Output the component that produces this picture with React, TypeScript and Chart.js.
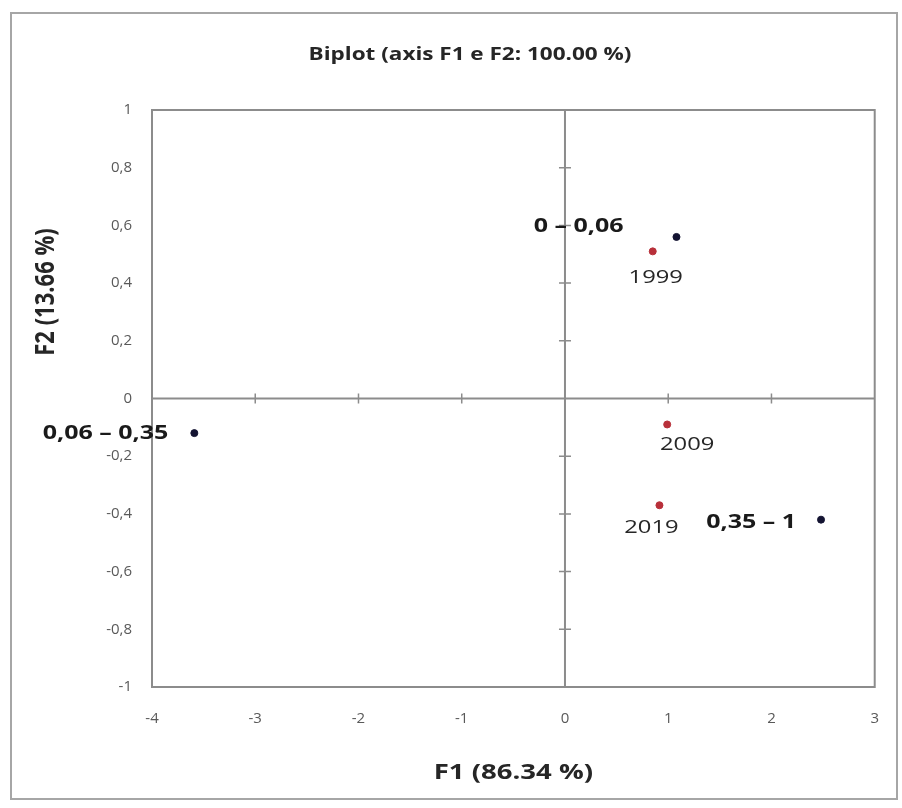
import React, { useEffect, useRef } from "react";
import { Chart, registerables } from "chart.js";

Chart.register(...registerables);

// ---- data ----
const chartTitle = "Biplot (axis F1 e F2: 100.00 %)";
const xAxisTitle = "F1 (86.34 %)";
const yAxisTitle = "F2 (13.66 %)";

const classLabels = ["0 – 0,06", "0,06 – 0,35", "0,35 – 1"];
const classX = [1.08, -3.59, 2.48];
const classY = [0.56, -0.12, -0.42];

const yearLabels = ["1999", "2009", "2019"];
const yearX = [0.85, 0.99, 0.915];
const yearY = [0.51, -0.09, -0.37];

const xMin = -4;
const xMax = 3;
const xStep = 1;
const yMin = -1;
const yMax = 1;
const yStep = 0.2;

// label placement (layout only): [dx, dy, align]
const classLabelPlacement: [number, number, CanvasTextAlign][] = [
  [-53, -11, "right"],
  [-26, 0, "right"],
  [-25, 3, "right"],
];
const yearLabelPlacement: [number, number, CanvasTextAlign][] = [
  [3, 26, "center"],
  [20, 20, "center"],
  [-8, 22, "center"],
];

const FONT = "'Open Sans', 'DejaVu Sans', sans-serif";
const SX = 1.25; // horizontal text stretch seen in the reference

const fmt = (v: number) => {
  const r = Math.round(v * 10) / 10;
  if (Math.abs(r) < 1e-9) return "0";
  if (Number.isInteger(r)) return String(r);
  return r.toFixed(1).replace(".", ",");
};

function drawText(ctx: CanvasRenderingContext2D, text: string, x: number, y: number, align: CanvasTextAlign) {
  ctx.save();
  ctx.translate(x, y);
  ctx.scale(SX, 1);
  ctx.textAlign = align;
  ctx.textBaseline = "middle";
  ctx.fillText(text, 0, 0);
  ctx.restore();
}

const decorPlugin = {
  id: "decor",
  beforeDraw(chart: any) {
    const { ctx, chartArea, scales } = chart;
    ctx.save();
    ctx.fillStyle = "#ffffff";
    ctx.fillRect(0, 0, chart.width, chart.height);
    // outer frame
    ctx.strokeStyle = "#a6a6a6";
    ctx.lineWidth = 2;
    ctx.strokeRect(11, 13, 886, 786);
    // plot area frame
    ctx.strokeStyle = "#8c8c8c";
    ctx.lineWidth = 2;
    ctx.strokeRect(chartArea.left, chartArea.top, chartArea.right - chartArea.left, chartArea.bottom - chartArea.top);
    // zero lines
    const x0 = scales.x.getPixelForValue(0);
    const y0 = scales.y.getPixelForValue(0);
    ctx.beginPath();
    ctx.moveTo(chartArea.left, y0);
    ctx.lineTo(chartArea.right, y0);
    ctx.moveTo(x0, chartArea.top);
    ctx.lineTo(x0, chartArea.bottom);
    ctx.stroke();
    // cross tick marks
    ctx.lineWidth = 1.5;
    ctx.beginPath();
    for (let v = xMin + xStep; v < xMax; v += xStep) {
      if (Math.abs(v) < 1e-9) continue;
      const px = scales.x.getPixelForValue(v);
      ctx.moveTo(px, y0 - 5);
      ctx.lineTo(px, y0 + 5);
    }
    for (let i = 1; i < Math.round((yMax - yMin) / yStep); i++) {
      const v = yMin + i * yStep;
      if (Math.abs(v) < 1e-9) continue;
      const py = scales.y.getPixelForValue(v);
      ctx.moveTo(x0 - 6, py);
      ctx.lineTo(x0 + 6, py);
    }
    ctx.stroke();
    ctx.restore();
  },
  afterDraw(chart: any) {
    const { ctx, chartArea } = chart;
    ctx.save();
    // titles
    ctx.fillStyle = "#262626";
    ctx.font = `bold 18px ${FONT}`;
    drawText(ctx, chartTitle, 470, 55, "center");
    ctx.font = `bold 22px ${FONT}`;
    drawText(ctx, xAxisTitle, (chartArea.left + chartArea.right) / 2, 773, "center");
    ctx.save();
    ctx.translate(46, 292);
    ctx.rotate(-Math.PI / 2);
    ctx.scale(1, SX);
    ctx.textAlign = "center";
    ctx.textBaseline = "middle";
    ctx.fillText(yAxisTitle, 0, 0);
    ctx.restore();

    // point labels
    const m0 = chart.getDatasetMeta(0);
    ctx.font = `bold 20px ${FONT}`;
    ctx.fillStyle = "#1a1a1a";
    m0.data.forEach((el: any, i: number) => {
      const [dx, dy, al] = classLabelPlacement[i];
      drawText(ctx, classLabels[i], el.x + dx, el.y + dy, al);
    });
    const m1 = chart.getDatasetMeta(1);
    ctx.font = `19px ${FONT}`;
    ctx.fillStyle = "#262626";
    m1.data.forEach((el: any, i: number) => {
      const [dx, dy, al] = yearLabelPlacement[i];
      drawText(ctx, yearLabels[i], el.x + dx, el.y + dy, al);
    });
    ctx.restore();
  },
};

export default function App() {
  const ref = useRef<HTMLCanvasElement | null>(null);
  useEffect(() => {
    if (!ref.current) return;
    const chart = new Chart(ref.current, {
      type: "scatter",
      data: {
        datasets: [
          {
            label: "classes",
            data: classX.map((x, i) => ({ x, y: classY[i] })),
            backgroundColor: "#141432",
            borderColor: "#141432",
            pointRadius: 3.5,
          },
          {
            label: "years",
            data: yearX.map((x, i) => ({ x, y: yearY[i] })),
            backgroundColor: "#b8303a",
            borderColor: "#b8303a",
            pointRadius: 3.5,
          },
        ],
      },
      options: {
        animation: false,
        responsive: false,
        maintainAspectRatio: false,
        layout: { padding: { left: 0, top: 110, right: 25, bottom: 0 } },
        plugins: { legend: { display: false }, tooltip: { enabled: false }, title: { display: false } },
        scales: {
          x: {
            type: "linear",
            min: xMin,
            max: xMax,
            grid: { display: false, drawTicks: false },
            border: { display: false },
            ticks: {
              stepSize: xStep,
              padding: 23,
              color: "#595959",
              font: { family: FONT, size: 15 },
              callback: (v: any) => fmt(Number(v)),
            },
            afterFit: (s: any) => {
              s.height = 121;
            },
          },
          y: {
            type: "linear",
            min: yMin,
            max: yMax,
            grid: { display: false, drawTicks: false },
            border: { display: false },
            ticks: {
              stepSize: yStep,
              padding: 20,
              color: "#595959",
              font: { family: FONT, size: 15 },
              callback: (v: any) => fmt(Number(v)),
            },
            afterFit: (s: any) => {
              s.width = 152;
            },
          },
        },
      },
      plugins: [decorPlugin],
    });
    return () => chart.destroy();
  }, []);
  return (
    <div style={{ position: "fixed", left: 0, top: 0, width: 902, height: 808, background: "#fff" }}>
      <canvas ref={ref} width={902} height={808} style={{ width: 902, height: 808, display: "block" }} />
    </div>
  );
}
